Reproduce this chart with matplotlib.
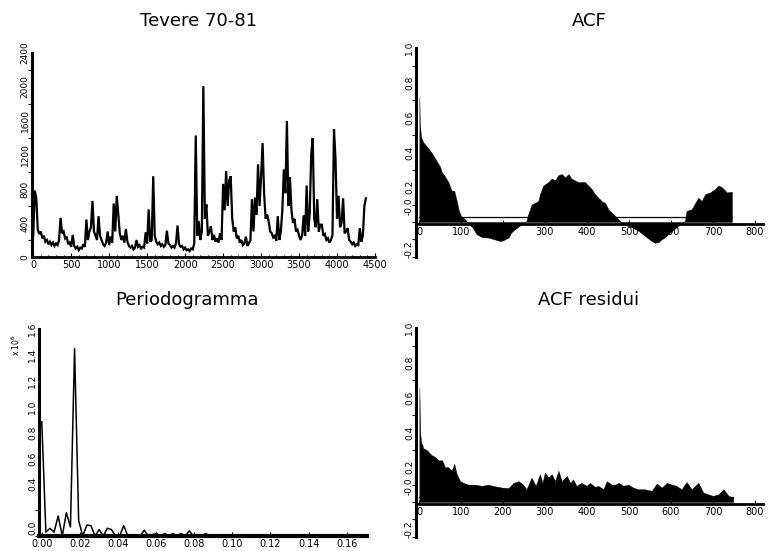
"""Tevere 70-81: series, ACF, periodogram and residual ACF (2x2 panels)."""

import numpy as np
import matplotlib
import matplotlib.pyplot as plt

matplotlib.use("Agg")

# --- daily flow, read every 20 days off the picture ---
ts_step = 20
ts_values = [
    250, 780, 700, 320, 270, 300, 220, 250, 180, 200, 150, 180, 140, 170, 130, 160, 140, 200, 460, 280,
    300, 220, 240, 150, 170, 120, 260, 130, 100, 120, 80, 110, 100, 150, 120, 440, 200, 300, 350, 660,
    300, 250, 200, 480, 250, 200, 150, 130, 170, 300, 140, 240, 170, 630, 300, 720, 500, 280, 200, 250,
    170, 330, 180, 130, 110, 130, 90, 110, 200, 120, 140, 100, 120, 110, 290, 160, 560, 180, 200, 950,
    250, 180, 150, 170, 130, 150, 120, 140, 310, 160, 140, 110, 130, 110, 160, 370, 150, 120, 130, 90,
    110, 80, 90, 70, 100, 90, 160, 1430, 250, 420, 200, 300, 2010, 450, 620, 250, 300, 360, 200, 260,
    180, 220, 170, 280, 200, 860, 550, 1010, 600, 900, 950, 450, 300, 350, 220, 250, 170, 200, 140, 160,
    240, 130, 160, 200, 680, 300, 700, 500, 1090, 600, 950, 1340, 750, 450, 500, 420, 300, 280, 230, 250,
    190, 480, 200, 300, 550, 1030, 750, 1600, 600, 940, 550, 400, 450, 300, 320, 250, 200, 250, 490, 250,
    840, 300, 500, 1200, 1400, 450, 350, 680, 300, 380, 380, 250, 270, 200, 220, 170, 200, 260, 1500, 1150,
    450, 720, 350, 400, 690, 280, 300, 340, 200, 180, 150, 170, 130, 150, 140, 340, 180, 250, 600, 690,
]

# --- ACF of the series ---
acf_lags = [1, 2, 5, 10, 20, 30, 40, 50, 55, 60, 70, 78, 84, 90, 95, 100, 110, 117, 127, 137,
            150, 165, 180, 193, 200, 213, 220, 233, 245, 256, 260, 268, 276, 284, 288, 296, 308, 316, 324, 332,
            340, 348, 356, 363, 371, 379, 387, 395, 403, 411, 419, 427, 435, 443, 451, 459, 467, 475, 483, 490,
            506, 522, 538, 554, 562, 570, 578, 586, 594, 602, 617, 633, 637, 649, 665, 673, 681, 693, 705, 713,
            721, 733, 745]
acf_vals = [0.72, 0.57, 0.49, 0.46, 0.43, 0.40, 0.36, 0.32, 0.285, 0.27, 0.23, 0.18, 0.18, 0.12, 0.065, 0.035, 0.015, -0.01, -0.03, -0.07,
            -0.087, -0.09, -0.10, -0.11, -0.106, -0.09, -0.06, -0.033, -0.013, 0.006, 0.044, 0.10, 0.11, 0.12, 0.16, 0.21, 0.23, 0.25, 0.24, 0.27,
            0.276, 0.257, 0.276, 0.25, 0.24, 0.23, 0.23, 0.23, 0.21, 0.19, 0.16, 0.14, 0.12, 0.11, 0.073, 0.054, 0.035, 0.015, -0.004, -0.017,
            -0.03, -0.05, -0.08, -0.11, -0.12, -0.116, -0.10, -0.087, -0.068, -0.052, -0.023, 0.006, 0.064, 0.073, 0.14, 0.12, 0.16, 0.17, 0.19, 0.21,
            0.20, 0.17, 0.174]

# --- ACF of the residuals ---
res_lags = [1, 2, 3, 5, 8, 10, 18, 22, 30, 38, 46, 55, 62, 70, 78, 84, 90, 98, 106, 117,
            133, 150, 165, 181, 197, 213, 225, 237, 248, 256, 268, 278, 288, 294, 300, 308, 316, 324, 332, 340,
            352, 360, 367, 375, 387, 399, 407, 419, 427, 439, 447, 459, 467, 475, 487, 498, 510, 522, 538, 554,
            566, 578, 590, 602, 613, 625, 637, 649, 665, 677, 689, 700, 713, 725, 737, 748]
res_vals = [0.66, 0.5, 0.4, 0.34, 0.33, 0.31, 0.30, 0.29, 0.27, 0.26, 0.24, 0.24, 0.20, 0.20, 0.18, 0.22, 0.16, 0.12, 0.11, 0.10,
            0.10, 0.093, 0.10, 0.09, 0.083, 0.08, 0.11, 0.12, 0.10, 0.073, 0.14, 0.093, 0.16, 0.11, 0.17, 0.14, 0.16, 0.12, 0.18, 0.12,
            0.15, 0.11, 0.13, 0.093, 0.11, 0.093, 0.11, 0.087, 0.093, 0.073, 0.12, 0.10, 0.10, 0.11, 0.093, 0.10, 0.083, 0.073, 0.073, 0.064,
            0.106, 0.083, 0.11, 0.10, 0.093, 0.073, 0.115, 0.073, 0.11, 0.054, 0.044, 0.035, 0.044, 0.073, 0.035, 0.025]

conf_band = 0.03

# --- periodogram (x 10^6), Fourier frequencies in rad/day ---
per_step = 0.00215
per_values = [
    0.885, 0.03, 0.06, 0.03, 0.155, 0.0, 0.18, 0.07, 1.45, 0.12,
    0.0, 0.085, 0.08, 0.0, 0.05, 0.0, 0.06, 0.05, 0.0, 0.0,
    0.08, 0.0, 0.0, 0.01, 0.0, 0.045, 0.0, 0.01, 0.02, 0.0,
    0.02, 0.0, 0.02, 0.0, 0.02, 0.0, 0.04, 0.0, 0.01, 0.0,
    0.02, 0.0, 0.0, 0.01, 0.0, 0.0, 0.0, 0.0, 0.01, 0.0,
    0.0, 0.01, 0.0, 0.0, 0.0, 0.0, 0.0, 0.0, 0.0, 0.0,
    0.0, 0.0, 0.0, 0.0, 0.0, 0.0, 0.01, 0.0, 0.0, 0.0,
    0.0, 0.0, 0.0, 0.0, 0.0, 0.0, 0.0, 0.0, 0.0, 0.0,
]

W, H = 769, 551


def _axes(fig, left, right, top, bottom):
    """Add axes from pixel edges (origin top-left)."""
    return fig.add_axes([left / W, 1 - bottom / H, (right - left) / W, (bottom - top) / H])


def _style(ax):
    for s in ("top", "right"):
        ax.spines[s].set_visible(False)
    ax.spines["left"].set_linewidth(2.2)
    ax.spines["bottom"].set_linewidth(2.0)
    ax.tick_params(axis="y", which="both", direction="out", width=0.8, labelsize=6.5, pad=1.5)
    ax.tick_params(axis="y", which="major", length=0)
    ax.tick_params(axis="y", which="minor", length=3)
    ax.tick_params(axis="x", which="both", direction="in", width=0.8, length=3, labelsize=7, pad=2)
    for lab in ax.get_yticklabels():
        lab.set_rotation(90)
        lab.set_va("center")


def _ylabels(ax, positions, labels, minor):
    ax.set_yticks(positions)
    ax.set_yticklabels(labels)
    ax.set_yticks(minor, minor=True)


def _acf_panel(ax, lags, vals):
    ax.fill_between(lags, 0, vals, color="black", lw=0.3, edgecolor="black")
    ax.plot([lags[0], lags[-1]], [conf_band, conf_band], color="black", lw=0.9)
    ax.set_xlim(-7, 819)
    ax.set_ylim(-0.2, 1.0)
    ax.spines["bottom"].set_position(("data", -0.014))
    ax.set_xticks(np.arange(0, 801, 100))
    ax.set_xticklabels([str(v) for v in range(0, 801, 100)])
    _ylabels(ax, [1.0, 0.8, 0.6, 0.4, 0.2, 0.09, -0.158],
             ["1.0", "0.8", "0.6", "0.4", "0.2", "-0.0", "-0.2"],
             np.arange(-0.2, 1.01, 0.1))
    _style(ax)


fig = plt.figure(figsize=(W / 100, H / 100), dpi=100)
fig.patch.set_facecolor("white")

title_kw = dict(fontsize=13, family="DejaVu Sans", ha="center", va="center")
fig.text(199 / W, 1 - 21 / H, "Tevere 70-81", **title_kw)
fig.text(589 / W, 1 - 21 / H, "ACF", **title_kw)
fig.text(187 / W, 1 - 300 / H, "Periodogramma", **title_kw)
fig.text(589 / W, 1 - 300 / H, "ACF residui", **title_kw)

# series
ax_ts = _axes(fig, 31.7, 375, 53, 257)
days = np.arange(len(ts_values)) * ts_step
ax_ts.plot(days, ts_values, color="black", lw=1.6, solid_joinstyle="miter")
ax_ts.set_xlim(-20, 4500)
ax_ts.set_ylim(0, 2400)
ax_ts.set_xticks(np.arange(0, 4501, 500))
ax_ts.set_xticks(np.arange(0, 4501, 100), minor=True)
_ylabels(ax_ts, np.arange(0, 2401, 400), [str(v) for v in range(0, 2401, 400)],
         np.arange(0, 2401, 200))
_style(ax_ts)
ax_ts.tick_params(axis="x", which="minor", length=1.5)

# ACF
ax_acf = _axes(fig, 416, 763, 48.3, 256.7)
_acf_panel(ax_acf, acf_lags, acf_vals)

# periodogram
ax_per = _axes(fig, 39.3, 366.7, 329.3, 536)
freqs = np.arange(len(per_values)) * per_step
ax_per.plot(freqs, per_values, color="black", lw=1.1)
ax_per.set_xlim(-0.0013, 0.1705)
ax_per.set_ylim(0, 1.6)
ax_per.set_xticks(np.arange(0, 0.161, 0.02))
ax_per.set_xticklabels(["%.2f" % v for v in np.arange(0, 0.161, 0.02)])
_ylabels(ax_per, [1.6, 1.4, 1.2, 1.0, 0.8, 0.6, 0.4, 0.062],
         ["1.6", "1.4", "1.2", "1.0", "0.8", "0.6", "0.4", "0.0"],
         np.arange(0, 1.61, 0.2))
_style(ax_per)
ax_per.spines["bottom"].set_linewidth(3)
fig.text(16 / W, 1 - 345 / H, r"x 10$^6$", rotation=90, fontsize=5.5, ha="center", va="center")

# residual ACF
ax_res = _axes(fig, 416, 763, 328.3, 536.7)
_acf_panel(ax_res, res_lags, res_vals)

fig.savefig("out.png", dpi=100, facecolor="white")
plt.close(fig)
